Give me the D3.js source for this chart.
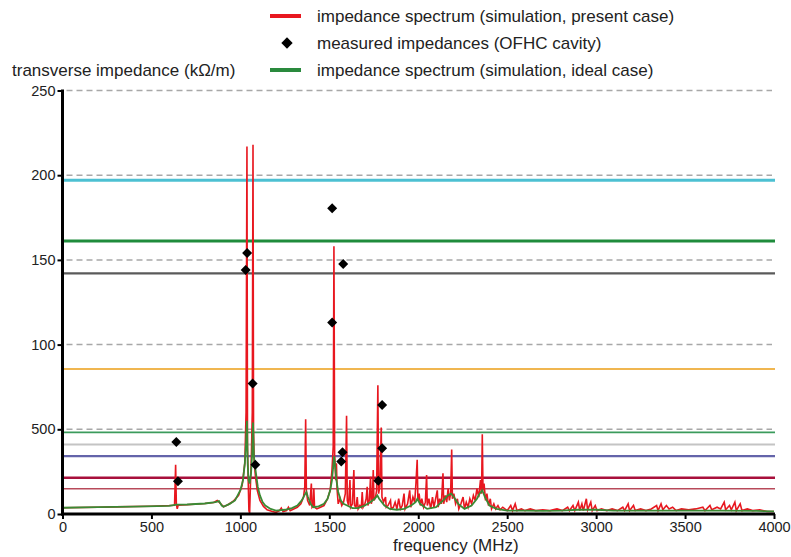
<!DOCTYPE html>
<html><head><meta charset="utf-8">
<script src="https://cdn.jsdelivr.net/npm/d3@7"></script>
<style>body{margin:0;background:#fff}svg{display:block}text{font-family:"Liberation Sans",Arial,sans-serif;fill:#222}</style>
</head><body>
<script>
const xTicks = [0,500,1000,1500,2000,2500,3000,3500,4000];
const yTicks = [0,50,100,150,200,250];
const yTickLabels = ["0","500","100","150","200","250"];
const legendLabels = ["impedance spectrum (simulation, present case)","measured impedances (OFHC cavity)","impedance spectrum (simulation, ideal case)"];
const refLevels = [197,161.2,142,85.6,48.2,41.1,34.2,21.4,14.9];
const presentCase = [[0,3.7],[100,3.8],[200,4.0],[300,4.2],[400,4.4],[500,4.6],[600,5.0],[630,5.2],[636,29],[640,6],[645,3],[650,5.2],[700,5.5],[800,6.2],[850,6.8],[870,8],[880,7],[895,5.5],[905,4.3],[930,5.5],[960,7.5],[990,11],[1010,17],[1025,30],[1032,60],[1037,217],[1040,40],[1044,20],[1048,2],[1052,0.5],[1056,15],[1062,35],[1067,60],[1071,218],[1074,50],[1078,30],[1085,22],[1095,14],[1110,8],[1130,4.5],[1150,2.5],[1180,1.5],[1200,1],[1220,2],[1230,3.5],[1240,1.5],[1260,2],[1270,4],[1280,2],[1300,3],[1320,4],[1340,6],[1355,10],[1362,16],[1367,56],[1371,14],[1378,8],[1390,5],[1399,18],[1403,4],[1410,5],[1413,15],[1417,4],[1430,3],[1450,4],[1470,5],[1490,9],[1505,14],[1515,26],[1522,40],[1526,158],[1530,35],[1536,20],[1540,30],[1544,14],[1550,6],[1560,9],[1570,5],[1580,7],[1590,12],[1597,58],[1601,8],[1608,5],[1616,20],[1620,4],[1630,6],[1638,26],[1642,5],[1650,4],[1657,10],[1662,3],[1672,5],[1680,4],[1685,13],[1690,4],[1700,6],[1707,9],[1713,16],[1717,5],[1725,8],[1732,22],[1736,6],[1742,9],[1747,26],[1751,8],[1760,10],[1766,14],[1773,76],[1777,12],[1784,16],[1792,51],[1796,10],[1805,7],[1816,10],[1820,4],[1830,5],[1844,8],[1848,3],[1860,4],[1870,7],[1880,3],[1890,9],[1900,3],[1910,5],[1920,12],[1926,3],[1940,6],[1952,14],[1958,4],[1970,10],[1980,7],[1987,18],[1994,32],[1998,8],[2005,12],[2012,5],[2020,9],[2030,4],[2040,7],[2047,23],[2051,5],[2060,9],[2070,3],[2080,10],[2088,4],[2096,8],[2107,14],[2112,4],[2120,9],[2130,6],[2139,24],[2143,6],[2152,11],[2160,7],[2168,15],[2175,8],[2182,12],[2188,38],[2192,9],[2200,12],[2210,6],[2220,9],[2228,3],[2240,6],[2252,10],[2260,3],[2270,7],[2280,4],[2290,9],[2300,6],[2310,11],[2320,8],[2330,15],[2340,10],[2350,20],[2356,12],[2360,47],[2364,14],[2370,18],[2378,8],[2386,12],[2395,5],[2405,9],[2412,3],[2425,6],[2435,3],[2448,5],[2460,2.5],[2475,4],[2500,2],[2520,5],[2530,2],[2545,6],[2555,2],[2580,3],[2600,2],[2630,3],[2660,2],[2700,2.5],[2740,2],[2780,3],[2810,2],[2840,4],[2850,2],[2870,5],[2880,2],[2900,7],[2908,2],[2920,6],[2928,2],[2945,9],[2952,2.5],[2970,7],[2978,2],[2995,5],[3005,2],[3030,3],[3060,2],[3090,3],[3120,2],[3150,4],[3160,2],[3180,6],[3188,2],[3210,5],[3220,2],[3250,3],[3280,2],[3310,3],[3340,5],[3348,2],[3365,6],[3375,2.5],[3395,5],[3410,3],[3430,4],[3450,2],[3480,3],[3520,2.5],[3560,3],[3600,4],[3612,2],[3640,5],[3650,2.5],[3680,4],[3700,3],[3720,7],[3728,2.5],[3750,5],[3760,2.5],[3780,7],[3788,2],[3810,6],[3820,2],[3850,3],[3880,2],[3920,2.5],[3960,1.5],[4000,1.5]];
const idealCase = [[0,3.7],[200,4],[400,4.3],[600,4.8],[640,5.5],[700,5.6],[800,6.2],[860,7],[880,7.6],[895,5],[905,4.3],[940,6],[970,8],[1000,14],[1015,20],[1025,30],[1032,42],[1037,55],[1041,30],[1046,20],[1052,18],[1060,24],[1066,35],[1071,54],[1076,34],[1085,26],[1098,16],[1110,11],[1125,7],[1140,5],[1170,3],[1200,2],[1250,2.5],[1290,3.5],[1320,5],[1345,8],[1360,11],[1371,13],[1380,10],[1395,6],[1410,4],[1440,4.5],[1470,6],[1490,9],[1505,14],[1515,20],[1522,28],[1527,34],[1533,28],[1540,20],[1550,13],[1565,8],[1580,6],[1600,5],[1630,3.5],[1660,3.5],[1700,5],[1730,7],[1755,9],[1770,11],[1780,9],[1795,7],[1810,5],[1840,3],[1880,2.5],[1920,3],[1960,5],[1985,7],[1995,9],[2010,6],[2050,3],[2100,4],[2140,8],[2165,11],[2185,12],[2200,10],[2225,6],[2260,3],[2300,5],[2330,9],[2345,12],[2360,14],[2375,10],[2400,5],[2440,3],[2500,2],[2600,2],[2700,1.8],[2800,2],[2900,2.5],[3000,2.5],[3100,2],[3300,2],[3500,2],[3700,2],[3900,1.8],[4000,1.6]];
const measured = [[640,42.5],[649,19.3],[1030,144],[1038,154],[1069,77],[1084,29],[1516,180.5],[1516,113],[1578,147.6],[1574,36.4],[1567,31],[1797,64.3],[1797,38.8],[1775,19.7]];

const refColors = ["#4cc0d2","#1f8c3c","#5a5a5a","#f0b650","#3b9b5c","#c4c4c4","#6464aa","#a8103c","#b84a5a"];
const refWidths = [3,3,2.2,2,1.6,2,2.2,2.6,1.6];

const W=791,H=557;
const svg=d3.select("body").append("svg").attr("width",W).attr("height",H);
const x=d3.scaleLinear().domain([0,4000]).range([62.5,774]);
const y=d3.scaleLinear().domain([0,250]).range([514,90.5]);

svg.append("g").selectAll("line").data(yTicks.filter(d=>d>0)).join("line")
  .attr("x1",x(0)+4).attr("x2",772).attr("y1",d=>y(d)).attr("y2",d=>y(d))
  .attr("stroke","#a8a8a8").attr("stroke-width",1.5).attr("stroke-dasharray","6,4");

svg.append("g").selectAll("line").data(refLevels).join("line")
  .attr("x1",x(0)).attr("x2",x(4000)+1).attr("y1",d=>y(d)).attr("y2",d=>y(d))
  .attr("stroke",(d,i)=>refColors[i]).attr("stroke-width",(d,i)=>refWidths[i]);

const line=d3.line().x(d=>x(d[0])).y(d=>y(d[1]));
svg.append("path").datum(presentCase).attr("d",line).attr("fill","none").attr("stroke","#e8171f").attr("stroke-width",1.6);
svg.append("path").datum(idealCase).attr("d",line).attr("fill","none").attr("stroke","#3a8a34").attr("stroke-width",1.8);

const diamond=d3.symbol().type(d3.symbolSquare).size(50);
svg.append("g").selectAll("path").data(measured).join("path")
  .attr("d",diamond).attr("fill","#000")
  .attr("transform",d=>`translate(${x(d[0])},${y(d[1])}) rotate(45)`);

const yAxis=d3.axisLeft(y).tickValues(yTicks).tickFormat((d,i)=>yTickLabels[i]).tickSize(5).tickPadding(2);
const gy=svg.append("g").attr("transform",`translate(${x(0)},0)`).call(yAxis);
gy.select(".domain").attr("stroke","#000").attr("stroke-width",3).attr("d",`M0,${y(250)-1}V${y(0)+1.5}`);
gy.selectAll(".tick line").attr("stroke","#000").attr("stroke-width",2);
gy.selectAll(".tick text").attr("font-size",14.5).attr("fill","#333").attr("font-family","Liberation Sans, Arial, sans-serif");

const xAxis=d3.axisBottom(x).tickValues(xTicks).tickFormat(d3.format("d")).tickSize(5).tickPadding(3);
const gx=svg.append("g").attr("transform",`translate(0,${y(0)})`).call(xAxis);
gx.select(".domain").attr("stroke","#000").attr("stroke-width",3).attr("d",`M${x(0)-1.5},0H${x(4000)+1}`);
gx.selectAll(".tick line").attr("stroke","#000").attr("stroke-width",2);
gx.selectAll(".tick text").attr("font-size",14.5).attr("fill","#333").attr("font-family","Liberation Sans, Arial, sans-serif");

svg.append("text").attr("x",12).attr("y",76).attr("font-size",17).text("transverse impedance (k\u03A9/m)");
svg.append("text").attr("x",393).attr("y",551).attr("font-size",17).text("frequency (MHz)");

const lg=svg.append("g");
const ly=[16,43,70];
lg.append("line").attr("x1",270).attr("x2",301).attr("y1",ly[0]).attr("y2",ly[0]).attr("stroke","#e8171f").attr("stroke-width",4);
lg.append("path").attr("d",d3.symbol().type(d3.symbolSquare).size(64)).attr("transform",`translate(287,${ly[1]}) rotate(45)`).attr("fill","#000");
lg.append("line").attr("x1",270).attr("x2",301).attr("y1",ly[2]).attr("y2",ly[2]).attr("stroke","#2a8a3e").attr("stroke-width",4);
lg.selectAll("text").data(legendLabels).join("text").attr("x",317).attr("y",(d,i)=>ly[i]+6).attr("font-size",17).text(d=>d);
</script>
</body></html>
